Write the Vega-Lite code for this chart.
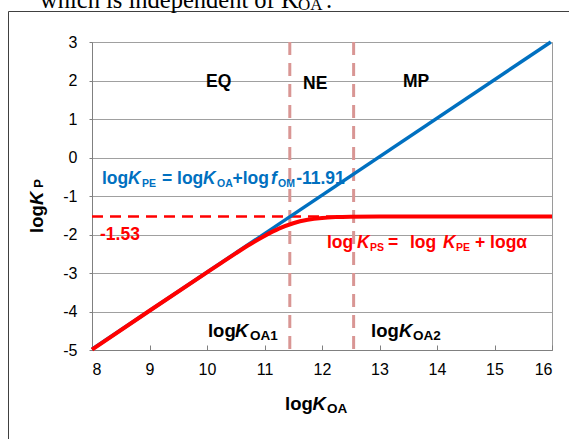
{
  "$schema": "https://vega.github.io/schema/vega-lite/v6.json",
  "width": 460,
  "height": 308,
  "autosize": {"type": "none"},
  "padding": {"left": 92, "top": 42, "right": 17, "bottom": 89},
  "background": "#ffffff",
  "config": {
    "view": {"stroke": "#9a9a9a", "strokeWidth": 1},
    "font": "Liberation Sans",
    "axis": {"labelOverlap": false, "labelFont": "Liberation Sans", "labelFontSize": 16, "labelColor": "#000000", "domainColor": "#808080", "tickColor": "#808080", "labelBound": false},
    "axisX": {"grid": false, "tickSize": -5, "labelPadding": 16},
    "axisY": {"grid": true, "gridColor": "#a0a0a0", "tickSize": 3, "labelPadding": 12}
  },
  "datasets": {
    "blue": [{"x": 8, "y": -4.98}, {"x": 15.98, "y": 3.0}],
    "red": [
      {"x": 8, "y": -4.99}, {"x": 9, "y": -3.98}, {"x": 10, "y": -2.982}, {"x": 10.25, "y": -2.735},
      {"x": 10.5, "y": -2.491}, {"x": 10.75, "y": -2.255}, {"x": 11, "y": -2.036}, {"x": 11.25, "y": -1.848},
      {"x": 11.5, "y": -1.707}, {"x": 11.75, "y": -1.618}, {"x": 12, "y": -1.57}, {"x": 12.25, "y": -1.548},
      {"x": 12.5, "y": -1.538}, {"x": 13, "y": -1.531}, {"x": 14, "y": -1.53}, {"x": 15, "y": -1.53}, {"x": 16, "y": -1.53}
    ],
    "vlines": [{"x": 11.44}, {"x": 12.55}],
    "hline": [{"x": 8, "x2": 12.55, "y": -1.53}],
    "frame": [{"x": 6.548, "x2": 18, "y": 3.792, "y2": -9}],
    "labels": [
      {"x": 8.174, "y": -0.68, "text": "log", "kind": "t", "g": "KPE"},
      {"x": 8.626, "y": -0.68, "text": "K", "kind": "k", "g": "KPE"},
      {"x": 8.87, "y": -0.68, "text": "PE", "kind": "s", "g": "KPE"},
      {"x": 9.217, "y": -0.68, "text": "= log", "kind": "t", "g": "KPE"},
      {"x": 9.93, "y": -0.68, "text": "K", "kind": "k", "g": "KPE"},
      {"x": 10.174, "y": -0.68, "text": "OA", "kind": "s", "g": "KPE"},
      {"x": 10.443, "y": -0.68, "text": "+log", "kind": "t", "g": "KPE"},
      {"x": 11.113, "y": -0.68, "text": "f", "kind": "k", "g": "KPE"},
      {"x": 11.235, "y": -0.68, "text": "OM", "kind": "s", "g": "KPE"},
      {"x": 11.55, "y": -0.68, "text": "-11.91", "kind": "t", "g": "KPE"},
      {"x": 12.087, "y": -2.35, "text": "log", "kind": "t", "g": "KPS"},
      {"x": 12.609, "y": -2.35, "text": "K", "kind": "k", "g": "KPS"},
      {"x": 12.835, "y": -2.35, "text": "PS", "kind": "s", "g": "KPS"},
      {"x": 13.148, "y": -2.35, "text": "=", "kind": "t", "g": "KPS"},
      {"x": 13.53, "y": -2.35, "text": "log", "kind": "t", "g": "KPS"},
      {"x": 14.104, "y": -2.35, "text": "K", "kind": "k", "g": "KPS"},
      {"x": 14.33, "y": -2.35, "text": "PE", "kind": "s", "g": "KPS"},
      {"x": 14.661, "y": -2.35, "text": "+ logα", "kind": "t", "g": "KPS"},
      {"x": 8.139, "y": -2.143, "text": "-1.53", "kind": "t", "g": "KPS"},
      {"x": 9.983, "y": 1.823, "text": "EQ", "kind": "t", "g": "note"},
      {"x": 11.67, "y": 1.771, "text": "NE", "kind": "t", "g": "note"},
      {"x": 13.409, "y": 1.84, "text": "MP", "kind": "t", "g": "note"},
      {"x": 10.017, "y": -4.654, "text": "log", "kind": "T", "g": "note"},
      {"x": 10.487, "y": -4.654, "text": "K", "kind": "K", "g": "note"},
      {"x": 10.748, "y": -4.654, "text": "OA1", "kind": "S", "g": "note"},
      {"x": 12.852, "y": -4.654, "text": "log", "kind": "T", "g": "note"},
      {"x": 13.339, "y": -4.654, "text": "K", "kind": "K", "g": "note"},
      {"x": 13.583, "y": -4.654, "text": "OA2", "kind": "S", "g": "note"},
      {"x": 11.357, "y": -6.558, "text": "log", "kind": "T", "g": "note"},
      {"x": 11.835, "y": -6.558, "text": "K", "kind": "K", "g": "note"},
      {"x": 12.087, "y": -6.558, "text": "OA", "kind": "S", "g": "note"},
      {"x": 7.148, "y": -1.961, "text": "log", "kind": "rt", "g": "note"},
      {"x": 7.148, "y": -1.234, "text": "K", "kind": "rk", "g": "note"},
      {"x": 7.148, "y": -0.87, "text": "P", "kind": "rs", "g": "note"},
      {"x": 7.096, "y": 3.88, "text": "which is independent of K", "kind": "serif", "g": "note"},
      {"x": 11.583, "y": 3.88, "text": "OA", "kind": "serifsub", "g": "note"},
      {"x": 12.07, "y": 3.88, "text": ".", "kind": "serif", "g": "note"}
    ]
  },
  "layer": [
    {
      "data": {"name": "frame"},
      "mark": {"type": "rect", "fill": null, "fillOpacity": 0, "stroke": "#404040", "strokeWidth": 1},
      "encoding": {
        "x": {"field": "x", "type": "quantitative", "title": null, "scale": {"domain": [8, 16], "nice": false, "zero": false},
          "axis": {"values": [8, 9, 10, 11, 12, 13, 14, 15, 16], "labelExpr": "'' + datum.value", "labelOverlap": false}},
        "x2": {"field": "x2"},
        "y": {"field": "y", "type": "quantitative", "title": null, "scale": {"domain": [-5, 3], "nice": false, "zero": false},
          "axis": {"values": [-5, -4, -3, -2, -1, 0, 1, 2, 3], "labelExpr": "'' + datum.value", "labelOverlap": false, "tickCount": 9}},
        "y2": {"field": "y2"}
      }
    },
    {
      "data": {"name": "vlines"},
      "mark": {"type": "rule", "color": "#d99694", "strokeWidth": 3, "strokeDash": [13, 8]},
      "encoding": {"x": {"field": "x", "type": "quantitative", "title": null}}
    },
    {
      "data": {"name": "hline"},
      "mark": {"type": "rule", "color": "#ff0000", "strokeWidth": 2.5, "strokeDash": [11, 7]},
      "encoding": {"x": {"field": "x", "type": "quantitative", "title": null}, "x2": {"field": "x2"}, "y": {"field": "y", "type": "quantitative", "title": null}}
    },
    {
      "data": {"name": "blue"},
      "mark": {"type": "line", "color": "#0070c0", "strokeWidth": 3.5},
      "encoding": {"x": {"field": "x", "type": "quantitative", "title": null}, "y": {"field": "y", "type": "quantitative", "title": null}}
    },
    {
      "data": {"name": "red"},
      "mark": {"type": "line", "color": "#ff0000", "strokeWidth": 4, "interpolate": "monotone"},
      "encoding": {"x": {"field": "x", "type": "quantitative", "title": null}, "y": {"field": "y", "type": "quantitative", "title": null}}
    },
    {
      "data": {"name": "labels"},
      "transform": [{"filter": "datum.kind == 't'"}],
      "mark": {"type": "text", "font": "Liberation Sans", "fontWeight": "bold", "fontSize": 17.5, "align": "left", "baseline": "alphabetic"},
      "encoding": {
        "x": {"field": "x", "type": "quantitative", "title": null}, "y": {"field": "y", "type": "quantitative", "title": null},
        "text": {"field": "text"},
        "color": {"field": "g", "type": "nominal", "scale": {"domain": ["KPE", "KPS", "note"], "range": ["#0070c0", "#ff0000", "#000000"]}, "legend": null}
      }
    },
    {
      "data": {"name": "labels"},
      "transform": [{"filter": "datum.kind == 'k'"}],
      "mark": {"type": "text", "font": "Liberation Sans", "fontWeight": "bold", "fontStyle": "italic", "fontSize": 17.5, "align": "left", "baseline": "alphabetic"},
      "encoding": {
        "x": {"field": "x", "type": "quantitative", "title": null}, "y": {"field": "y", "type": "quantitative", "title": null},
        "text": {"field": "text"},
        "color": {"field": "g", "type": "nominal", "legend": null}
      }
    },
    {
      "data": {"name": "labels"},
      "transform": [{"filter": "datum.kind == 's'"}],
      "mark": {"type": "text", "font": "Liberation Sans", "fontWeight": "bold", "fontSize": 10.5, "dy": 3, "align": "left", "baseline": "alphabetic"},
      "encoding": {
        "x": {"field": "x", "type": "quantitative", "title": null}, "y": {"field": "y", "type": "quantitative", "title": null},
        "text": {"field": "text"},
        "color": {"field": "g", "type": "nominal", "legend": null}
      }
    },
    {
      "data": {"name": "labels"},
      "transform": [{"filter": "datum.kind == 'T'"}],
      "mark": {"type": "text", "font": "Liberation Sans", "fontWeight": "bold", "fontSize": 18.5, "align": "left", "baseline": "alphabetic", "color": "#000000"},
      "encoding": {"x": {"field": "x", "type": "quantitative", "title": null}, "y": {"field": "y", "type": "quantitative", "title": null}, "text": {"field": "text"}}
    },
    {
      "data": {"name": "labels"},
      "transform": [{"filter": "datum.kind == 'K'"}],
      "mark": {"type": "text", "font": "Liberation Sans", "fontWeight": "bold", "fontStyle": "italic", "fontSize": 18.5, "align": "left", "baseline": "alphabetic", "color": "#000000"},
      "encoding": {"x": {"field": "x", "type": "quantitative", "title": null}, "y": {"field": "y", "type": "quantitative", "title": null}, "text": {"field": "text"}}
    },
    {
      "data": {"name": "labels"},
      "transform": [{"filter": "datum.kind == 'S'"}],
      "mark": {"type": "text", "font": "Liberation Sans", "fontWeight": "bold", "fontSize": 13.5, "dy": 3, "align": "left", "baseline": "alphabetic", "color": "#000000"},
      "encoding": {"x": {"field": "x", "type": "quantitative", "title": null}, "y": {"field": "y", "type": "quantitative", "title": null}, "text": {"field": "text"}}
    },
    {
      "data": {"name": "labels"},
      "transform": [{"filter": "datum.kind == 'rt'"}],
      "mark": {"type": "text", "font": "Liberation Sans", "fontWeight": "bold", "fontSize": 18.5, "angle": 270, "align": "left", "baseline": "alphabetic", "color": "#000000"},
      "encoding": {"x": {"field": "x", "type": "quantitative", "title": null}, "y": {"field": "y", "type": "quantitative", "title": null}, "text": {"field": "text"}}
    },
    {
      "data": {"name": "labels"},
      "transform": [{"filter": "datum.kind == 'rk'"}],
      "mark": {"type": "text", "font": "Liberation Sans", "fontWeight": "bold", "fontStyle": "italic", "fontSize": 18.5, "angle": 270, "align": "left", "baseline": "alphabetic", "color": "#000000"},
      "encoding": {"x": {"field": "x", "type": "quantitative", "title": null}, "y": {"field": "y", "type": "quantitative", "title": null}, "text": {"field": "text"}}
    },
    {
      "data": {"name": "labels"},
      "transform": [{"filter": "datum.kind == 'rs'"}],
      "mark": {"type": "text", "font": "Liberation Sans", "fontWeight": "bold", "fontSize": 13.5, "angle": 270, "dx": 3, "align": "left", "baseline": "alphabetic", "color": "#000000"},
      "encoding": {"x": {"field": "x", "type": "quantitative", "title": null}, "y": {"field": "y", "type": "quantitative", "title": null}, "text": {"field": "text"}}
    },
    {
      "data": {"name": "labels"},
      "transform": [{"filter": "datum.kind == 'serif'"}],
      "mark": {"type": "text", "font": "Liberation Serif", "fontSize": 24.5, "align": "left", "baseline": "alphabetic", "color": "#000000"},
      "encoding": {"x": {"field": "x", "type": "quantitative", "title": null}, "y": {"field": "y", "type": "quantitative", "title": null}, "text": {"field": "text"}}
    },
    {
      "data": {"name": "labels"},
      "transform": [{"filter": "datum.kind == 'serifsub'"}],
      "mark": {"type": "text", "font": "Liberation Serif", "fontSize": 17, "dy": 2, "align": "left", "baseline": "alphabetic", "color": "#000000"},
      "encoding": {"x": {"field": "x", "type": "quantitative", "title": null}, "y": {"field": "y", "type": "quantitative", "title": null}, "text": {"field": "text"}}
    }
  ]
}
